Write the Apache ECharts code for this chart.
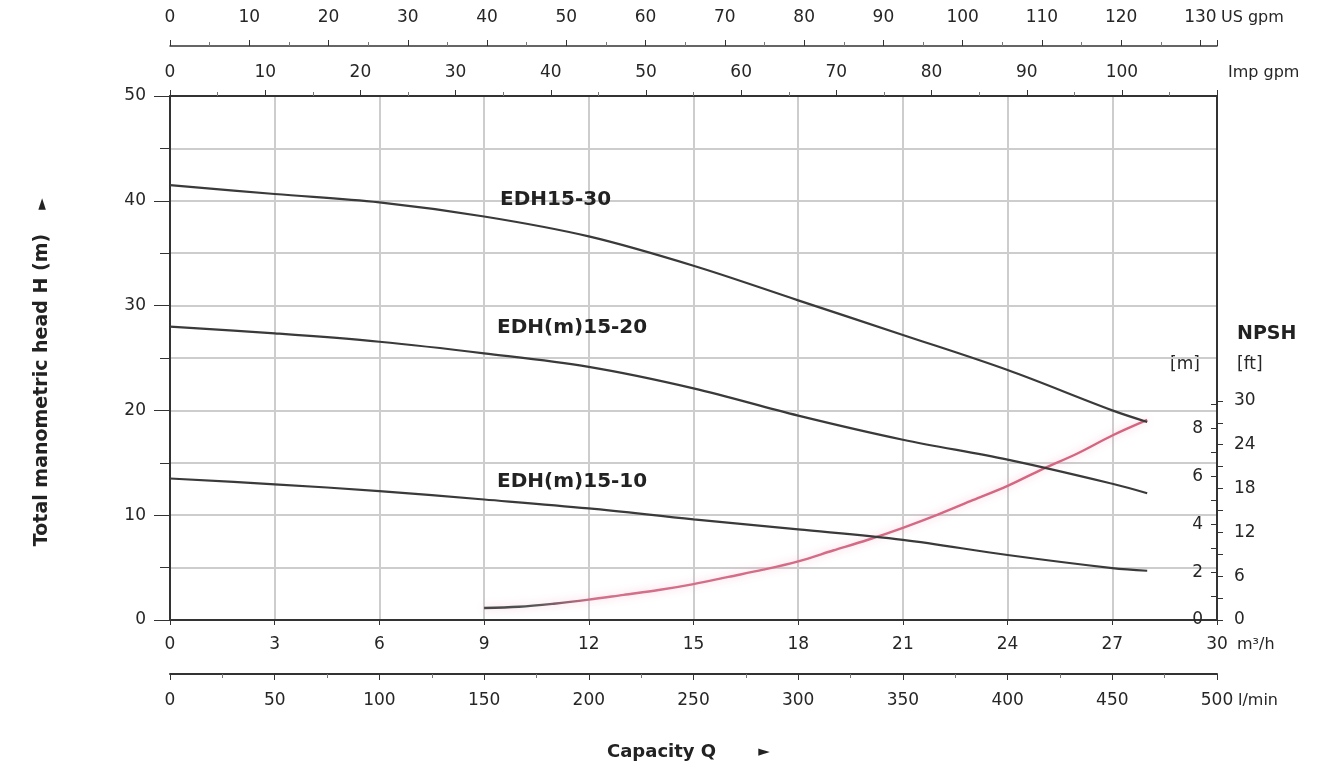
<!DOCTYPE html>
<html>
<head>
<meta charset="utf-8">
<title>EDH15 pump performance curves</title>
<script src="https://cdn.jsdelivr.net/npm/echarts@6/dist/echarts.min.js"></script>
<style>
  html, body { margin: 0; padding: 0; background: #ffffff; }
  #chart { width: 1340px; height: 769px; }
</style>
</head>
<body>
<div id="chart"></div>
<script>
// Capacity in m³/h for the head curves
const flowM3h = [0, 3, 6, 9, 12, 15, 18, 21, 24, 27, 28];
// Total manometric head H (m) per model
const headEDH1530 = [41.5, 40.65, 39.85, 38.5, 36.6, 33.8, 30.5, 27.2, 23.85, 20.0, 18.9];
const headEDH1520 = [28.0, 27.35, 26.55, 25.45, 24.15, 22.1, 19.5, 17.2, 15.3, 13.0, 12.1];
const headEDH1510 = [13.5, 12.95, 12.3, 11.5, 10.65, 9.6, 8.65, 7.65, 6.2, 4.95, 4.7];
// NPSH required (m)
const npshFlow = [9, 10, 11, 12, 13, 14, 15, 16, 17, 18, 19, 20, 21, 22, 23, 24, 25, 26, 27, 28];
const npshM = [0.5, 0.55, 0.68, 0.85, 1.05, 1.25, 1.5, 1.8, 2.1, 2.45, 2.9, 3.35, 3.85, 4.4, 5.0, 5.6, 6.3, 6.95, 7.7, 8.35];
// Tick labels
const m3hTicks = [0, 3, 6, 9, 12, 15, 18, 21, 24, 27, 30];
const lminTicks = [0, 50, 100, 150, 200, 250, 300, 350, 400, 450, 500];
const impGpmTicks = [0, 10, 20, 30, 40, 50, 60, 70, 80, 90, 100];
const usGpmTicks = [0, 10, 20, 30, 40, 50, 60, 70, 80, 90, 100, 110, 120, 130];
const headTicks = [0, 10, 20, 30, 40, 50];
const npshMTicks = [0, 2, 4, 6, 8];
const npshFtTicks = [0, 6, 12, 18, 24, 30];
const modelNames = ['EDH15-30', 'EDH(m)15-20', 'EDH(m)15-10'];

// unit conversions for the secondary scales
const Q_MAX = 30;                                   // m³/h
const IMP_GPM_MAX = Q_MAX * 1000 / 4.54609 / 60;    // imp gpm
const US_GPM_MAX = Q_MAX * 1000 / 3.785411784 / 60; // US gpm
const LMIN_MAX = Q_MAX * 1000 / 60;                 // l/min
const NPSH_M_MAX = 21.87;                           // NPSH scale height (m)
const NPSH_FT_MAX = NPSH_M_MAX * 3.28084;

const FONT = '"DejaVu Sans", "Liberation Sans", sans-serif';
const AXIS = '#333333';
const TXT = '#262626';
const GRIDC = '#cdcdcd';
const CURVE = '#3a3a3a';

const tickLabel = { fontFamily: FONT, fontSize: 17, color: TXT };
const plotRect = { left: 170, right: 123, top: 96, bottom: 149, containLabel: false };

function curveData(head, labelOffset) {
  return flowM3h.map((q, i) => {
    const item = { value: [q, head[i]] };
    if (i === 3) {
      item.label = {
        show: true, position: 'right', distance: 5, offset: labelOffset,
        formatter: '{a}', fontFamily: FONT, fontWeight: 'bold', fontSize: 20, color: '#222'
      };
    }
    return item;
  });
}

function headSeries(name, head, labelOffset) {
  return {
    name: name, type: 'line', xAxisIndex: 0, yAxisIndex: 0,
    data: curveData(head, labelOffset),
    smooth: 0.35,
    symbol: 'circle', symbolSize: 0, showSymbol: true,
    lineStyle: { color: CURVE, width: 2.2 },
    itemStyle: { color: CURVE },
    emphasis: { disabled: true }, silent: true, z: 5
  };
}

const option = {
  animation: false,
  backgroundColor: '#ffffff',
  // second grid shares the plot rectangle and carries the NPSH feet scale
  grid: [Object.assign({}, plotRect), Object.assign({}, plotRect)],
  xAxis: [
    { // m³/h (bottom)
      type: 'value', gridIndex: 0, position: 'bottom', min: 0, max: Q_MAX, interval: 3,
      axisLine: { show: true, onZero: false, lineStyle: { color: AXIS, width: 2 } },
      axisTick: { show: true, length: 5, lineStyle: { color: AXIS } },
      axisLabel: Object.assign({ margin: 16, customValues: m3hTicks }, tickLabel),
      splitLine: { show: true, lineStyle: { color: GRIDC, width: 2 } }
    },
    { // l/min (bottom, offset)
      type: 'value', gridIndex: 0, position: 'bottom', offset: 54, min: 0, max: LMIN_MAX, interval: 50,
      axisLine: { show: true, onZero: false, lineStyle: { color: AXIS, width: 2 } },
      axisTick: { show: true, length: 6, lineStyle: { color: AXIS } },
      minorTick: { show: true, splitNumber: 2, length: 4, lineStyle: { color: '#777' } },
      axisLabel: Object.assign({ margin: 18, customValues: lminTicks }, tickLabel),
      splitLine: { show: false }
    },
    { // Imp gpm (top)
      type: 'value', gridIndex: 0, position: 'top', offset: 0, min: 0, max: IMP_GPM_MAX, interval: 10,
      axisLine: { show: true, onZero: false, lineStyle: { color: AXIS, width: 2 } },
      axisTick: { show: true, length: 6, lineStyle: { color: AXIS } },
      minorTick: { show: true, splitNumber: 2, length: 4, lineStyle: { color: '#777' } },
      axisLabel: Object.assign({ margin: 15, customValues: impGpmTicks }, tickLabel),
      splitLine: { show: false }
    },
    { // US gpm (top, offset)
      type: 'value', gridIndex: 0, position: 'top', offset: 50, min: 0, max: US_GPM_MAX, interval: 10,
      axisLine: { show: true, onZero: false, lineStyle: { color: AXIS, width: 1.5 } },
      axisTick: { show: true, length: 6, lineStyle: { color: AXIS } },
      minorTick: { show: true, splitNumber: 2, length: 4, lineStyle: { color: '#777' } },
      axisLabel: Object.assign({ margin: 20, customValues: usGpmTicks }, tickLabel),
      splitLine: { show: false }
    },
    { // placeholder x scale for the feet grid
      type: 'value', gridIndex: 1, show: false, min: 0, max: Q_MAX
    }
  ],
  yAxis: [
    { // total manometric head H (m)
      type: 'value', gridIndex: 0, position: 'left', min: 0, max: 50, interval: 10,
      axisLine: { show: true, onZero: false, lineStyle: { color: AXIS, width: 2 } },
      axisTick: { show: true, length: 16, lineStyle: { color: AXIS } },
      minorTick: { show: true, splitNumber: 2, length: 10, lineStyle: { color: AXIS } },
      axisLabel: Object.assign({ margin: 24, customValues: headTicks }, tickLabel),
      splitLine: { show: true, lineStyle: { color: GRIDC, width: 2 } },
      minorSplitLine: { show: true, lineStyle: { color: GRIDC, width: 2 } }
    },
    { // NPSH in metres (labels inside)
      type: 'value', gridIndex: 0, position: 'right', offset: 0, min: 0, max: NPSH_M_MAX,
      axisLine: { show: true, onZero: false, lineStyle: { color: AXIS, width: 2 } },
      axisTick: { show: true, inside: true, length: 6, customValues: [0, 1, 2, 3, 4, 5, 6, 7, 8, 9], lineStyle: { color: AXIS } },
      axisLabel: Object.assign({ inside: true, margin: 14, customValues: npshMTicks }, tickLabel),
      splitLine: { show: false }
    },
    { // NPSH in feet (labels outside)
      type: 'value', gridIndex: 1, position: 'right', offset: 0, min: 0, max: NPSH_FT_MAX,
      axisLine: { show: false, onZero: false },
      axisTick: { show: true, length: 6, customValues: [0, 3, 6, 9, 12, 15, 18, 21, 24, 27, 30], lineStyle: { color: AXIS } },
      axisLabel: Object.assign({ margin: 17, customValues: npshFtTicks }, tickLabel),
      splitLine: { show: false }
    }
  ],
  series: [
    headSeries(modelNames[0], headEDH1530, [11, -17]),
    headSeries(modelNames[1], headEDH1520, [8, -25]),
    headSeries(modelNames[2], headEDH1510, [8, -18]),
    {
      name: 'NPSH', type: 'line', xAxisIndex: 0, yAxisIndex: 1,
      data: npshFlow.map((q, i) => [q, npshM[i]]),
      smooth: 0.35, showSymbol: false,
      lineStyle: {
        width: 2.4,
        color: {
          type: 'linear', x: 0, y: 0, x2: 1, y2: 0,
          colorStops: [
            { offset: 0, color: '#444444' },
            { offset: 0.08, color: '#555555' },
            { offset: 0.17, color: '#d4708b' },
            { offset: 1, color: '#d6637f' }
          ]
        },
        shadowColor: 'rgba(240,150,175,0.55)', shadowBlur: 8
      },
      emphasis: { disabled: true }, silent: true, z: 4
    }
  ],
  graphic: [
    { type: 'text', x: 42, y: 390, rotation: Math.PI / 2,
      style: { text: 'Total manometric head H (m)', font: 'bold 19px ' + FONT, fill: '#222', align: 'center', verticalAlign: 'middle' } },
    { type: 'text', x: 42, y: 204, rotation: Math.PI / 2,
      style: { text: '►', font: 'bold 15px ' + FONT, fill: '#222', align: 'center', verticalAlign: 'middle' } },
    { type: 'text', x: 607, y: 752,
      style: { text: 'Capacity Q', font: 'bold 18px ' + FONT, fill: '#222', align: 'left', verticalAlign: 'middle' } },
    { type: 'text', x: 764, y: 752,
      style: { text: '►', font: 'bold 15px ' + FONT, fill: '#222', align: 'center', verticalAlign: 'middle' } },
    { type: 'text', x: 1237, y: 334,
      style: { text: 'NPSH', font: 'bold 19px ' + FONT, fill: '#222', align: 'left', verticalAlign: 'middle' } },
    { type: 'text', x: 1185, y: 365,
      style: { text: '[m]', font: '17px ' + FONT, fill: TXT, align: 'center', verticalAlign: 'middle' } },
    { type: 'text', x: 1237, y: 365,
      style: { text: '[ft]', font: '17px ' + FONT, fill: TXT, align: 'left', verticalAlign: 'middle' } },
    { type: 'text', x: 1221, y: 18,
      style: { text: 'US gpm', font: '16px ' + FONT, fill: TXT, align: 'left', verticalAlign: 'middle' } },
    { type: 'text', x: 1228, y: 73,
      style: { text: 'Imp gpm', font: '16px ' + FONT, fill: TXT, align: 'left', verticalAlign: 'middle' } },
    { type: 'text', x: 1237, y: 645,
      style: { text: 'm³/h', font: '16px ' + FONT, fill: TXT, align: 'left', verticalAlign: 'middle' } },
    { type: 'text', x: 1238, y: 701,
      style: { text: 'l/min', font: '16px ' + FONT, fill: TXT, align: 'left', verticalAlign: 'middle' } }
  ]
};

const chart = echarts.init(document.getElementById('chart'), null, { renderer: 'canvas', width: 1340, height: 769 });
chart.setOption(option);
</script>
</body>
</html>
